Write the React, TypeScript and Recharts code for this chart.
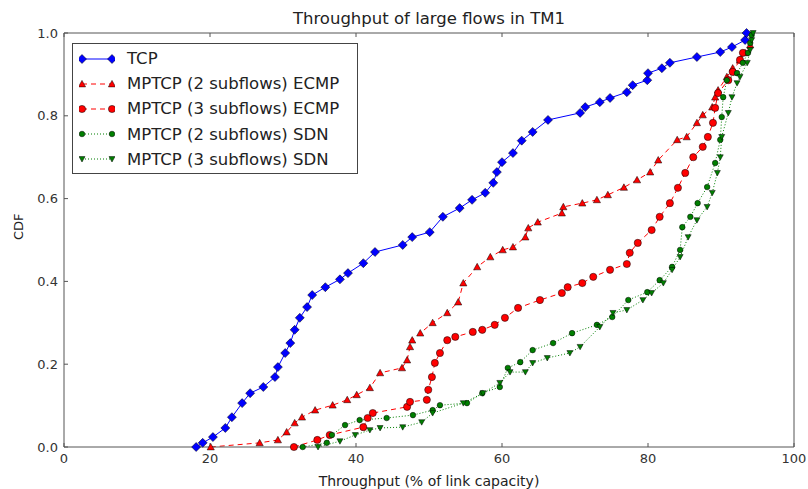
import React from 'react';
import { LineChart, Line, XAxis, YAxis } from 'recharts';

// CDF points (x = throughput %, y = CDF)
const tcp = [
  { x: 18.1, y: 0 }, { x: 19.0, y: 0.01 }, { x: 20.4, y: 0.024 }, { x: 22.1, y: 0.046 }, { x: 23.0, y: 0.072 },
  { x: 24.4, y: 0.106 }, { x: 25.5, y: 0.13 }, { x: 27.3, y: 0.145 }, { x: 28.9, y: 0.169 }, { x: 29.3, y: 0.193 },
  { x: 30.3, y: 0.227 }, { x: 31.0, y: 0.251 }, { x: 31.6, y: 0.283 }, { x: 32.3, y: 0.312 }, { x: 33.3, y: 0.338 },
  { x: 34.0, y: 0.367 }, { x: 35.8, y: 0.386 }, { x: 37.8, y: 0.405 }, { x: 38.9, y: 0.42 }, { x: 41.0, y: 0.444 },
  { x: 42.6, y: 0.471 }, { x: 46.4, y: 0.488 }, { x: 47.7, y: 0.507 }, { x: 50.1, y: 0.519 }, { x: 51.9, y: 0.556 },
  { x: 54.2, y: 0.577 }, { x: 55.9, y: 0.597 }, { x: 57.7, y: 0.614 }, { x: 58.8, y: 0.638 }, { x: 59.3, y: 0.664 },
  { x: 60.0, y: 0.688 }, { x: 61.5, y: 0.71 }, { x: 62.7, y: 0.74 }, { x: 64.2, y: 0.761 }, { x: 66.3, y: 0.79 },
  { x: 70.7, y: 0.807 }, { x: 71.4, y: 0.821 }, { x: 73.4, y: 0.833 }, { x: 74.8, y: 0.843 }, { x: 77.1, y: 0.857 },
  { x: 77.9, y: 0.874 }, { x: 79.9, y: 0.886 }, { x: 80.0, y: 0.903 }, { x: 81.9, y: 0.915 }, { x: 83.0, y: 0.928 },
  { x: 86.7, y: 0.942 }, { x: 89.9, y: 0.954 }, { x: 91.5, y: 0.966 }, { x: 93.3, y: 0.983 }, { x: 93.5, y: 1.0 },
];

const mptcp2Ecmp = [
  { x: 20.1, y: 0 }, { x: 26.8, y: 0.01 }, { x: 29.3, y: 0.017 }, { x: 30.5, y: 0.036 }, { x: 31.6, y: 0.058 },
  { x: 32.6, y: 0.072 }, { x: 34.4, y: 0.089 }, { x: 36.8, y: 0.101 }, { x: 38.8, y: 0.114 }, { x: 40.1, y: 0.126 },
  { x: 41.9, y: 0.143 }, { x: 43.3, y: 0.179 }, { x: 46.3, y: 0.191 }, { x: 47.0, y: 0.21 }, { x: 47.4, y: 0.242 },
  { x: 47.7, y: 0.258 }, { x: 48.8, y: 0.275 }, { x: 50.5, y: 0.3 }, { x: 52.5, y: 0.324 }, { x: 54.0, y: 0.35 },
  { x: 54.7, y: 0.396 }, { x: 56.6, y: 0.435 }, { x: 58.4, y: 0.459 }, { x: 60.1, y: 0.476 }, { x: 61.5, y: 0.483 },
  { x: 63.2, y: 0.507 }, { x: 63.6, y: 0.529 }, { x: 64.9, y: 0.543 }, { x: 68.2, y: 0.565 }, { x: 68.4, y: 0.58 },
  { x: 71.0, y: 0.589 }, { x: 73.0, y: 0.597 }, { x: 74.5, y: 0.609 }, { x: 76.7, y: 0.627 }, { x: 78.5, y: 0.645 },
  { x: 80.3, y: 0.664 }, { x: 81.4, y: 0.693 }, { x: 84.0, y: 0.742 }, { x: 85.3, y: 0.749 }, { x: 86.7, y: 0.783 },
  { x: 87.5, y: 0.802 }, { x: 88.8, y: 0.821 }, { x: 89.2, y: 0.845 }, { x: 89.6, y: 0.862 }, { x: 90.8, y: 0.894 },
  { x: 91.6, y: 0.915 }, { x: 92.6, y: 0.935 }, { x: 93.3, y: 0.952 }, { x: 94.0, y: 0.971 },
];

const mptcp3Ecmp = [
  { x: 31.5, y: 0 }, { x: 34.7, y: 0.017 }, { x: 36.4, y: 0.029 }, { x: 41.0, y: 0.048 }, { x: 41.6, y: 0.07 },
  { x: 42.3, y: 0.082 }, { x: 47.0, y: 0.097 }, { x: 47.4, y: 0.109 }, { x: 49.7, y: 0.114 }, { x: 49.9, y: 0.138 },
  { x: 50.4, y: 0.169 }, { x: 50.8, y: 0.203 }, { x: 51.5, y: 0.227 }, { x: 52.5, y: 0.258 }, { x: 53.6, y: 0.266 },
  { x: 56.0, y: 0.278 }, { x: 57.3, y: 0.283 }, { x: 59.0, y: 0.295 }, { x: 60.4, y: 0.312 }, { x: 62.2, y: 0.336 },
  { x: 65.2, y: 0.355 }, { x: 68.2, y: 0.372 }, { x: 69.0, y: 0.386 }, { x: 71.0, y: 0.396 }, { x: 72.5, y: 0.411 },
  { x: 74.8, y: 0.428 }, { x: 77.1, y: 0.442 }, { x: 77.5, y: 0.469 }, { x: 78.6, y: 0.493 }, { x: 80.5, y: 0.524 },
  { x: 81.6, y: 0.556 }, { x: 83.0, y: 0.589 }, { x: 84.1, y: 0.626 }, { x: 85.1, y: 0.662 }, { x: 86.2, y: 0.7 },
  { x: 87.5, y: 0.725 }, { x: 88.2, y: 0.749 }, { x: 88.9, y: 0.783 }, { x: 89.2, y: 0.819 }, { x: 89.6, y: 0.855 },
  { x: 91.0, y: 0.886 }, { x: 91.6, y: 0.906 }, { x: 92.6, y: 0.935 }, { x: 93.0, y: 0.952 },
];

const mptcp2Sdn = [
  { x: 32.7, y: 0 }, { x: 36.0, y: 0.01 }, { x: 36.7, y: 0.029 }, { x: 38.5, y: 0.053 }, { x: 40.5, y: 0.065 },
  { x: 44.2, y: 0.07 }, { x: 47.8, y: 0.077 }, { x: 50.5, y: 0.089 }, { x: 51.5, y: 0.101 }, { x: 55.2, y: 0.106 },
  { x: 57.3, y: 0.13 }, { x: 59.7, y: 0.145 }, { x: 60.8, y: 0.191 }, { x: 62.5, y: 0.205 }, { x: 64.2, y: 0.234 },
  { x: 67.0, y: 0.251 }, { x: 69.6, y: 0.275 }, { x: 73.0, y: 0.295 }, { x: 75.1, y: 0.314 }, { x: 77.3, y: 0.355 },
  { x: 79.9, y: 0.374 }, { x: 81.6, y: 0.403 }, { x: 83.3, y: 0.435 }, { x: 84.4, y: 0.476 }, { x: 84.7, y: 0.531 },
  { x: 85.8, y: 0.556 }, { x: 86.8, y: 0.589 }, { x: 88.1, y: 0.628 }, { x: 89.2, y: 0.686 }, { x: 89.9, y: 0.742 },
  { x: 90.1, y: 0.797 }, { x: 90.3, y: 0.845 }, { x: 90.8, y: 0.886 }, { x: 92.2, y: 0.903 }, { x: 93.0, y: 0.928 },
  { x: 93.7, y: 0.952 }, { x: 94.0, y: 0.976 }, { x: 94.2, y: 0.995 },
];

const mptcp3Sdn = [
  { x: 34.8, y: 0 }, { x: 37.8, y: 0.014 }, { x: 39.9, y: 0.029 }, { x: 41.9, y: 0.041 }, { x: 43.3, y: 0.046 },
  { x: 46.4, y: 0.048 }, { x: 49.0, y: 0.06 }, { x: 50.5, y: 0.082 }, { x: 54.7, y: 0.106 }, { x: 57.4, y: 0.13 },
  { x: 59.7, y: 0.155 }, { x: 61.1, y: 0.181 }, { x: 63.2, y: 0.181 }, { x: 64.2, y: 0.203 }, { x: 66.2, y: 0.215 },
  { x: 69.3, y: 0.227 }, { x: 70.7, y: 0.242 }, { x: 73.4, y: 0.29 }, { x: 75.2, y: 0.324 }, { x: 77.1, y: 0.331 },
  { x: 79.3, y: 0.355 }, { x: 80.5, y: 0.372 }, { x: 82.1, y: 0.396 }, { x: 83.3, y: 0.428 }, { x: 84.4, y: 0.459 },
  { x: 85.5, y: 0.507 }, { x: 86.7, y: 0.548 }, { x: 88.1, y: 0.58 }, { x: 88.8, y: 0.614 }, { x: 89.5, y: 0.662 },
  { x: 89.9, y: 0.7 }, { x: 90.1, y: 0.749 }, { x: 91.0, y: 0.807 }, { x: 91.5, y: 0.845 }, { x: 92.2, y: 0.879 },
  { x: 92.6, y: 0.894 }, { x: 93.6, y: 0.928 }, { x: 94.0, y: 0.959 }, { x: 94.2, y: 0.983 }, { x: 94.4, y: 1.0 },
];

const xTicks = [0, 20, 40, 60, 80, 100];
const yTicks = [0, 0.2, 0.4, 0.6, 0.8, 1.0];

const FONT = '"DejaVu Sans", sans-serif';
const BLUE = '#0000ff';
const RED = '#ff0000';
const GREEN = '#007f00';

type Shape = 'diamond' | 'triangle' | 'circle' | 'smallCircle' | 'triangleDown';

function Marker({ cx, cy, shape, color }: { cx: number; cy: number; shape: Shape; color: string }) {
  const edge = { stroke: '#000', strokeWidth: 0.5, fill: color };
  if (shape === 'diamond') {
    const r = 4.5;
    return <polygon points={`${cx},${cy - r} ${cx + r},${cy} ${cx},${cy + r} ${cx - r},${cy}`} {...edge} />;
  }
  if (shape === 'triangle') {
    const r = 3.6;
    return <polygon points={`${cx},${cy - r} ${cx + r},${cy + r * 0.8} ${cx - r},${cy + r * 0.8}`} {...edge} />;
  }
  if (shape === 'triangleDown') {
    const r = 3;
    return <polygon points={`${cx},${cy + r} ${cx + r},${cy - r * 0.8} ${cx - r},${cy - r * 0.8}`} {...edge} />;
  }
  return <circle cx={cx} cy={cy} r={shape === 'circle' ? 3.6 : 2.8} {...edge} />;
}

const dotFor = (shape: Shape, color: string) => (props: any) => {
  const { cx, cy, index } = props;
  if (cx == null || cy == null) return <g key={`e-${index}`} />;
  return <Marker key={`${shape}-${index}`} cx={cx} cy={cy} shape={shape} color={color} />;
};

const legendItems: { label: string; shape: Shape; color: string; dash?: string }[] = [
  { label: 'TCP', shape: 'diamond', color: BLUE },
  { label: 'MPTCP (2 subflows) ECMP', shape: 'triangle', color: RED, dash: '5 4' },
  { label: 'MPTCP (3 subflows) ECMP', shape: 'circle', color: RED, dash: '5 4' },
  { label: 'MPTCP (2 subflows) SDN', shape: 'smallCircle', color: GREEN, dash: '1 2' },
  { label: 'MPTCP (3 subflows) SDN', shape: 'triangleDown', color: GREEN, dash: '1 2' },
];

const tickStyle = { fill: '#333', fontSize: 13, fontFamily: FONT };

export default function App() {
  React.useEffect(() => {
    document.body.style.margin = '0';
  }, []);

  return (
    <div style={{ position: 'relative', width: 808, height: 489, background: '#fff', fontFamily: FONT }}>
      <div style={{ position: 'absolute', left: 64, width: 730, top: 8, textAlign: 'center', fontSize: 16.5, color: '#222', lineHeight: '22px' }}>
        Throughput of large flows in TM1
      </div>
      <LineChart width={808} height={489} margin={{ top: 0, right: 0, bottom: 0, left: 0 }}>
        <XAxis xAxisId="b" type="number" dataKey="x" domain={[0, 100]} ticks={xTicks} height={42}
          stroke="#555" tickSize={-4} tickMargin={11} tick={tickStyle} allowDataOverflow
          label={{ value: 'Throughput (% of link capacity)', position: 'insideBottom', offset: 3, fill: '#222', fontSize: 14, fontFamily: FONT }} />
        <XAxis xAxisId="t" orientation="top" type="number" dataKey="x" domain={[0, 100]} ticks={xTicks} height={33}
          stroke="#555" tickSize={-4} tickFormatter={() => ''} allowDataOverflow />
        <YAxis yAxisId="l" type="number" domain={[0, 1]} ticks={yTicks} width={64}
          stroke="#555" tickSize={-4} tickMargin={10} tick={tickStyle} tickFormatter={(v: number) => v.toFixed(1)}
          label={{ value: 'CDF', angle: -90, position: 'insideLeft', offset: 18, fill: '#222', fontSize: 13, fontFamily: FONT }} />
        <YAxis yAxisId="r" orientation="right" type="number" domain={[0, 1]} ticks={yTicks} width={14}
          stroke="#555" tickSize={-4} tickFormatter={() => ''} />
        <Line xAxisId="b" yAxisId="l" data={tcp} dataKey="y" stroke={BLUE} strokeWidth={1}
          dot={dotFor('diamond', BLUE)} isAnimationActive={false} />
        <Line xAxisId="b" yAxisId="l" data={mptcp2Ecmp} dataKey="y" stroke={RED} strokeWidth={1} strokeDasharray="5 4"
          dot={dotFor('triangle', RED)} isAnimationActive={false} />
        <Line xAxisId="b" yAxisId="l" data={mptcp3Ecmp} dataKey="y" stroke={RED} strokeWidth={1} strokeDasharray="5 4"
          dot={dotFor('circle', RED)} isAnimationActive={false} />
        <Line xAxisId="b" yAxisId="l" data={mptcp2Sdn} dataKey="y" stroke={GREEN} strokeWidth={1} strokeDasharray="1 2"
          dot={dotFor('smallCircle', GREEN)} isAnimationActive={false} />
        <Line xAxisId="b" yAxisId="l" data={mptcp3Sdn} dataKey="y" stroke={GREEN} strokeWidth={1} strokeDasharray="1 2"
          dot={dotFor('triangleDown', GREEN)} isAnimationActive={false} />
      </LineChart>
      <div style={{
        position: 'absolute', left: 72, top: 43, width: 286, height: 131, border: '1px solid #444',
        background: '#fff', boxSizing: 'border-box', padding: '2px 0 0 6px',
      }}>
        {legendItems.map((it) => (
          <div key={it.label} style={{ display: 'flex', alignItems: 'center', height: 25.2 }}>
            <svg width={36} height={14} style={{ marginRight: 12 }}>
              <line x1={3} y1={7} x2={33} y2={7} stroke={it.color} strokeWidth={1} strokeDasharray={it.dash} />
              <Marker cx={3} cy={7} shape={it.shape} color={it.color} />
              <Marker cx={33} cy={7} shape={it.shape} color={it.color} />
            </svg>
            <span style={{ fontSize: 16.5, color: '#222', whiteSpace: 'nowrap' }}>{it.label}</span>
          </div>
        ))}
      </div>
    </div>
  );
}
